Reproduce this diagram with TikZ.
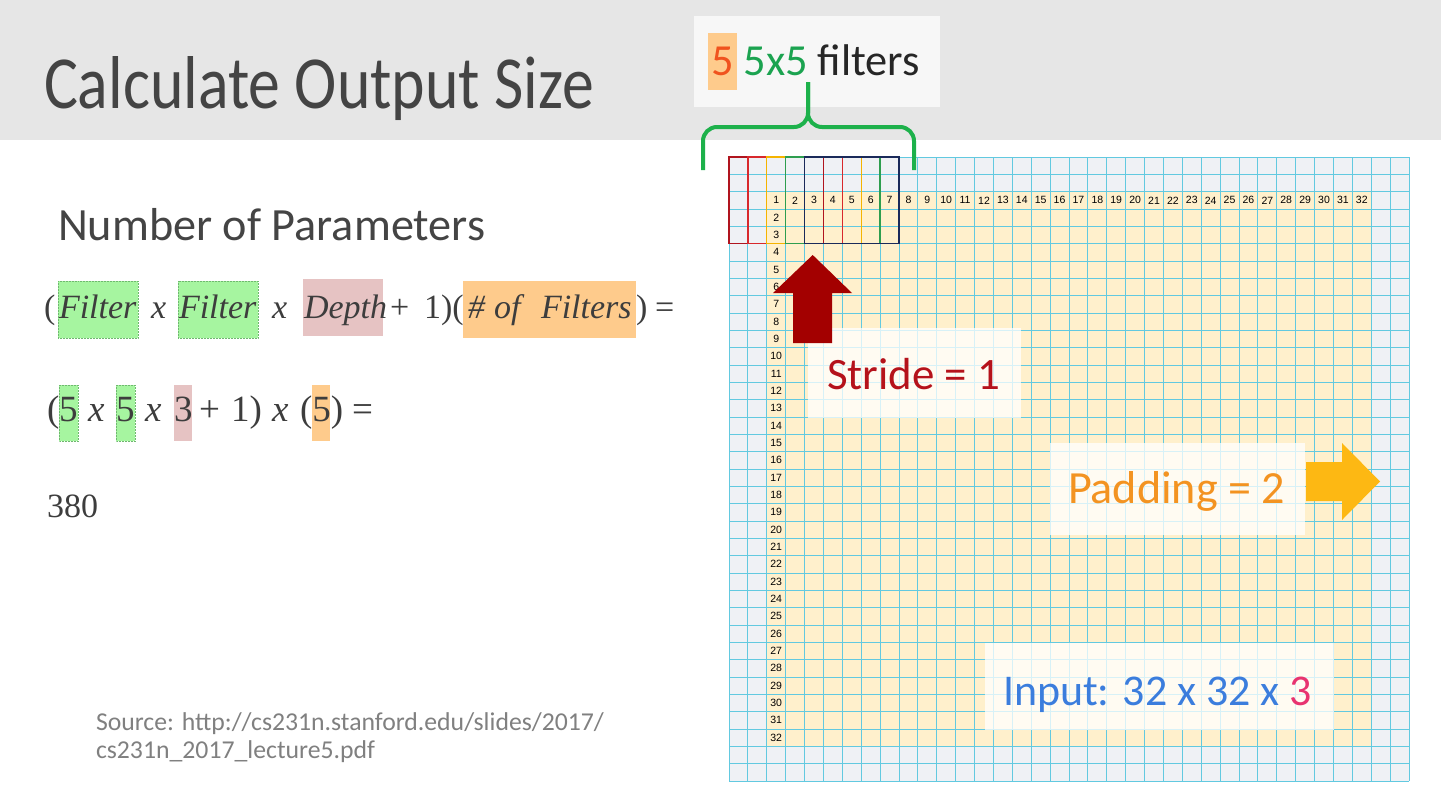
\documentclass[tikz,border=0pt]{standalone}
\usepackage{graphicx}
\usepackage{fontspec}
\setmainfont{Liberation Serif}
\newfontfamily\sansf{Carlito}
\newfontfamily\numf{Liberation Sans}
\newcommand\fitw[2]{\resizebox{#1}{!}{#2}}
\definecolor{band}{HTML}{E6E6E6}
\definecolor{lblbox}{HTML}{F7F7F7}
\definecolor{padc}{HTML}{EFF1F5}
\definecolor{datac}{HTML}{FFF0CC}
\definecolor{gridc}{HTML}{62C9E0}
\definecolor{fa}{HTML}{B0141E}
\definecolor{fb}{HTML}{D8282C}
\definecolor{fc}{HTML}{F5B400}
\definecolor{fd}{HTML}{2E9E4F}
\definecolor{fe}{HTML}{1A2A5A}
\definecolor{bracec}{HTML}{1DB14B}
\definecolor{ink}{HTML}{444444}
\definecolor{ftc}{HTML}{3D3D3D}
\definecolor{hlgreen}{HTML}{A6F5A0}
\definecolor{hlgreenb}{HTML}{6FB86F}
\definecolor{hlpink}{HTML}{E6C3C3}
\definecolor{hlorange}{HTML}{FECB8C}
\definecolor{lorange}{HTML}{F0531E}
\definecolor{lgreen}{HTML}{1BA350}
\definecolor{stridec}{HTML}{B5121B}
\definecolor{arrred}{HTML}{A30000}
\definecolor{padtxt}{HTML}{F39321}
\definecolor{arramb}{HTML}{FDB813}
\definecolor{iblue}{HTML}{3B7DDD}
\definecolor{ipink}{HTML}{E83370}
\definecolor{srcc}{HTML}{808080}
\begin{document}
\begin{tikzpicture}[x=1pt,y=-1pt,
  txt/.style={anchor=base west, inner sep=0pt, outer sep=0pt},
  ft/.style={txt, text=ftc, font=\fontsize{34}{40}\selectfont},
  fw/.style={ft, font=\fontsize{34}{40}\selectfont\itshape},
  fx/.style={ft, font=\fontsize{34}{40}\selectfont\itshape},
  ftb/.style={txt, text=ftc, font=\fontsize{37}{42}\selectfont},
  fxb/.style={ftb, font=\fontsize{37}{42}\selectfont\itshape},
  gl/.style={draw=gridc, line width=0.9pt},
  num/.style={inner sep=0pt, font=\numf\fontsize{10.5}{12}\selectfont, text=black},
  hlg/.style={fill=hlgreen, draw=hlgreenb, densely dotted, line width=0.5pt},
  hlp/.style={fill=hlpink},
  hlo/.style={fill=hlorange},
  wbox/.style={fill=white, fill opacity=0.75},
  brace/.style={draw=bracec, line width=4pt, rounded corners=14pt}
]
\useasboundingbox (0,0) rectangle (1441,809);
\fill[white] (0,0) rectangle (1441,809);
% top band
\fill[band] (0,0) rectangle (1441,140);
\node[txt, text=ink] (title) at (44,108) {\resizebox{550pt}{52pt}{\sansf\fontsize{70}{84}\selectfont Calculate Output Size}};
% filter label
\fill[lblbox] (694,16) rectangle (940,107);
\fill[hlorange] (708,33) rectangle (737,90);
\node[txt] (flabel) at (711,75) {\fitw{209pt}{\sansf\fontsize{40}{48}\selectfont\textcolor{lorange}{5} \textcolor{lgreen}{5x5} \textcolor{black!85}{filters}}};
% grid backgrounds
\fill[padc] (729,157) rectangle (1409,781);
\fill[datac] ({729+2*18.889},{157+2*17.333}) rectangle ({729+34*18.889},{157+34*17.333});
\foreach \i in {0,...,36} \draw[gl] ({729+\i*18.889},157) -- ({729+\i*18.889},781);
\foreach \j in {0,...,36} \draw[gl] (729,{157+\j*17.333}) -- (1409,{157+\j*17.333});
% numbers
\foreach \k in {1,...,32} \node[num] (c\k) at ({729+(\k+1.5)*18.889},{157+2.5*17.333}) {\k};
\foreach \k in {2,...,32} \node[num] (r\k) at ({729+2.5*18.889},{157+(\k+1.5)*17.333}) {\k};
% filters
\foreach \i/\c in {0/fa,1/fb,2/fc,3/fd,4/fe}
  \draw[draw=\c, line width=1.4pt] ({729+\i*18.889},157) rectangle ({729+(\i+5)*18.889},{157+5*17.333});
% brace
\draw[brace] (703,170) -- (703,127) -- (808,127) -- (808,82);
\draw[brace] (914,170) -- (914,127) -- (808,127) -- (808,82);
% stride
\fill[wbox] (808,328) rectangle (1021,418);
\node[txt, text=stridec] (stride) at (827,389) {\fitw{173pt}{\sansf\fontsize{44}{52}\selectfont Stride = 1}};
\fill[arrred] (812.7,255) -- (852,293) -- (832,293) -- (832,343) -- (793,343) -- (793,293) -- (773,293) -- cycle;
% padding
\fill[wbox] (1050,443) rectangle (1305,535);
\node[txt, text=padtxt] (padding) at (1068,503) {\fitw{217pt}{\sansf\fontsize{44}{52}\selectfont Padding = 2}};
\fill[arramb] (1306,462) -- (1342,462) -- (1342,443) -- (1380,481.5) -- (1342,520) -- (1342,501) -- (1306,501) -- cycle;
% input
\fill[wbox] (985,643) rectangle (1334,730);
\node[txt] (input) at (1003,705) {\fitw{309pt}{\sansf\fontsize{44}{52}\selectfont\textcolor{iblue}{Input: 32 x 32 x }\textcolor{ipink}{3}}};
% left side
\node[txt, text=ink] (params) at (58,240) {\fitw{427pt}{\sansf\fontsize{50}{60}\selectfont Number of Parameters}};
% formula line 1 highlights
\path[hlg] (58,281) rectangle (138,338);
\path[hlg] (178,281) rectangle (258,338);
\path[hlp] (303,279) rectangle (383,336);
\path[hlo] (463,281) rectangle (636,338);
\node[ft] (l1a) at (44,318) {(};
\node[fw] (l1b) at (59,318) {Filter};
\node[fx] (l1c) at (151,318) {x};
\node[fw] (l1d) at (179,318) {Filter};
\node[fx] (l1e) at (272,318) {x};
\node[fw] (l1f) at (304,318) {Depth};
\node[ft] (l1g) at (390,318) {+};
\node[ft] (l1h) at (424,318) {1)(};
\node[fw] (l1i) at (468,318) {\#};
\node[fw] (l1j) at (494,318) {of};
\node[fw] (l1k) at (541,318) {Filters};
\node[ft] (l1l) at (636,318) {)};
\node[ft] (l1m) at (655,318) {=};
% formula line 2
\path[hlg] (59,385) rectangle (78,441);
\path[hlg] (116,385) rectangle (135,441);
\path[hlp] (174,385) rectangle (192,441);
\path[hlo] (312,385) rectangle (330,441);
\node[ftb] (l2a) at (47,421) {(};
\node[ftb] (l2b) at (59,421) {5};
\node[fxb] (l2c) at (88,421) {x};
\node[ftb] (l2d) at (116,421) {5};
\node[fxb] (l2e) at (145,421) {x};
\node[ftb] (l2f) at (174,421) {3};
\node[ftb] (l2g) at (199,421) {+};
\node[ftb] (l2h) at (231,421) {1)};
\node[fxb] (l2i) at (272,421) {x};
\node[ftb] (l2j) at (300,421) {(5)};
\node[ftb] (l2k) at (352,421) {=};
\node[ft] (res) at (47,517) {380};
% source
\node[txt, text=srcc] (src1) at (96,730) {\fitw{508pt}{\sansf\fontsize{24}{28}\selectfont Source: http://cs231n.stanford.edu/slides/2017/}};
\node[txt, text=srcc] (src2) at (96,758) {\fitw{279pt}{\sansf\fontsize{24}{28}\selectfont cs231n\_2017\_lecture5.pdf}};
\end{tikzpicture}
\end{document}
